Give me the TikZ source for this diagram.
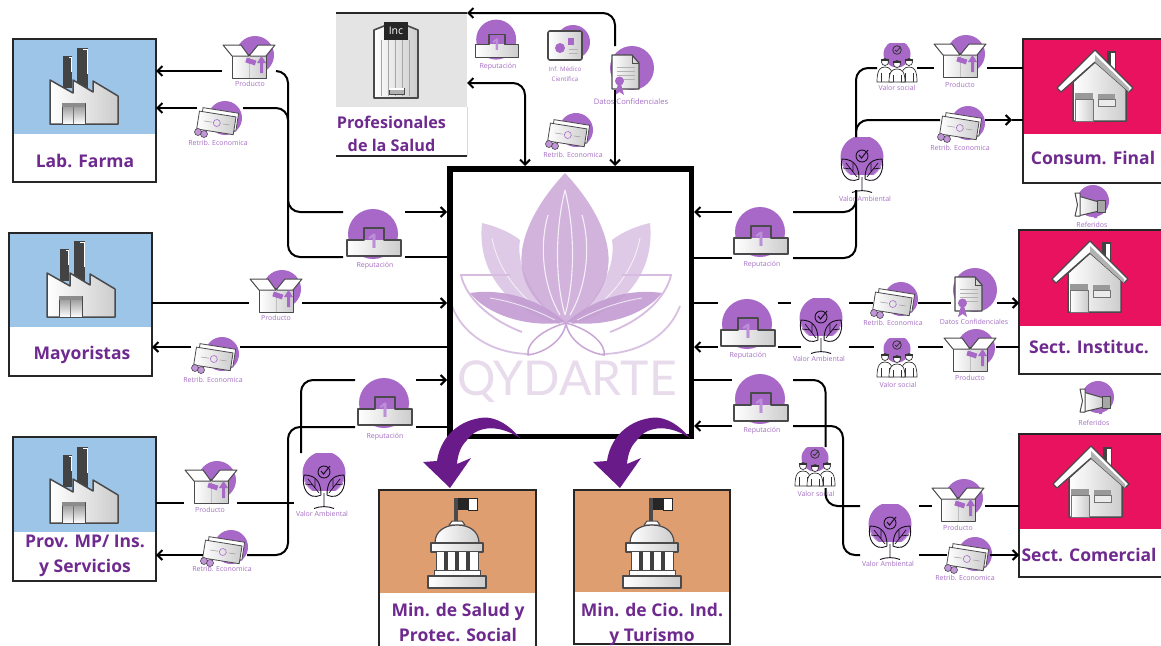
\documentclass[tikz,border=0pt]{standalone}
\usepackage{fontspec}
\setmainfont{Open Sans}
\newfontfamily\logofont{Lato}
\usetikzlibrary{arrows.meta,calc}
\definecolor{iconp}{HTML}{A768C8}
\definecolor{labp}{HTML}{A56FC4}
\definecolor{titlep}{HTML}{6E2A8E}
\definecolor{deepp}{HTML}{6A1B8A}
\definecolor{bluebg}{HTML}{9CC5E8}
\definecolor{pinkbg}{HTML}{E8125F}
\definecolor{orangebg}{HTML}{DF9E70}
\definecolor{graybg}{HTML}{E4E4E4}
\definecolor{edge}{HTML}{4A4A4C}
\definecolor{logoc}{HTML}{C9A6D6}
\definecolor{logod}{HTML}{C39CD2}
\definecolor{logol}{HTML}{E8DBEC}
\definecolor{onec}{HTML}{BC8FD8}
\tikzset{
 x=1pt,y=-1pt,
 link/.style={line width=2pt,draw=black,rounded corners=12pt},
 arr/.style={-{Straight Barb[length=5pt,width=10pt,line width=2pt]}},
 arrboth/.style={{Straight Barb[length=5pt,width=10pt,line width=2pt]}-{Straight Barb[length=5pt,width=10pt,line width=2pt]}},
 gapnode/.style={rectangle,inner sep=0pt,outer sep=0pt,minimum height=0pt},
 lbl/.style={text=labp,font=\fontsize{7}{8.5}\selectfont,inner sep=0pt,align=center},
 title/.style={text=titlep,font=\bfseries\fontsize{17.5}{25}\selectfont,inner sep=0pt,align=center},
 entbox/.style={rectangle,draw=#1,line width=2pt,inner sep=0pt,outer sep=0pt},
 entbox/.default={black!85},
 ol/.style={draw=edge,line width=1pt,line join=round},
 shade1/.style={left color=white,right color=black!20},
 shade2/.style={top color=black!45,bottom color=white},
}
\newcommand\gapn[4]{\node[gapnode,minimum width=#4] (#1) at (#2,#3) {};}
\newcommand\lab[3]{\node[lbl] (#1) at (#2) {#3};}
\newcommand\entity[7]{%
 \fill[#7] (#2,#3) rectangle (#4,#6);
 \node[entbox,minimum width={#4-#2},minimum height={#5-#3}] (#1) at ({(#2+#4)/2},{(#3+#5)/2}) {};}
% ---- entity pictures
\newcommand\factory[1]{\begin{scope}[shift={(#1)}]
 \fill[edge!90!black] (-21,-30) rectangle (-12,2);
 \draw[white,line width=.7] (-15,-29) -- (-13,-29) -- (-13,-14);
 \fill[edge!90!black] (-7,-38) rectangle (4,2);
 \draw[white,line width=.7] (-1,-37) -- (3,-37) -- (3,-12);
 \path[ol,line width=1.5pt,shade1] (-34,38) -- (-34,-6) -- (-11,7) -- (-11,-6) -- (9,6) -- (9,-5) -- (34,10) -- (34,38) -- cycle;
 \path[ol,shade2] (-22,17) rectangle (1,38);
 \fill[black!45] (-22,17) rectangle (1,21);
 \draw[black!55,line width=.6] (-10.5,21) -- (-10.5,38);
\end{scope}}
\newcommand\house[1]{\begin{scope}[shift={(#1)}]
 \fill[edge!90!black] (12,-35) rectangle (21,-12);
 \fill[white] (16,-33) rectangle (20,-14);
 \path[ol,line width=1.5pt,shade1] (-22,-4) -- (0,-24) -- (31,0) -- (31,35) -- (-22,35) -- cycle;
 \path[ol,line width=1.2pt,fill=white] (-38,2) -- (0,-36) -- (38,2) -- (34,6) -- (0,-24) -- (-34,6) -- cycle;
 \fill[black!30] (0,-31) -- (34,2) -- (34,6) -- (0,-24) -- cycle;
 \fill[black!40] (-20,7) rectangle (-2,13);
 \path[draw=black!55,line width=.7,shade1] (-20,13) rectangle (-2,35);
 \fill[black!40] (3,8) rectangle (20,13);
 \path[draw=black!55,line width=.7,fill=black!8] (3,13) rectangle (20,20);
\end{scope}}
\newcommand\capitol[1]{\begin{scope}[shift={(#1)}]
 \fill[edge] (-3,-45) rectangle (1,-22);
 \fill[black!85] (1,-45) rectangle (11,-33);
 \path[draw=black!85,fill=white,line width=.8] (11,-45) rectangle (20,-33);
 \path[ol,fill=white] (-8,-18) -- (-5,-22) -- (5,-22) -- (8,-18) -- cycle;
 \path[ol,line width=1.2pt,shade1] (-22,0) .. controls (-22,-12) and (-12,-18) .. (0,-18) .. controls (12,-18) and (22,-12) .. (22,0) -- cycle;
 \path[ol,line width=1.2pt,shade1] (-26,0) rectangle (26,9);
 \fill[white] (-21,9) rectangle (21,27);
 \foreach \c in {-12,-1,10}{\fill[black!75] (\c-1.5,9) rectangle (\c+2.5,27);}
 \draw[edge,line width=1pt] (-21,9) -- (-21,27) (21,9) -- (21,27);
 \path[ol,fill=white] (-23,27) rectangle (23,33);
 \path[ol,line width=1.4pt,shade1] (-29,33) rectangle (29,45);
\end{scope}}
\newcommand\office[1]{\begin{scope}[shift={(#1)}]
 \path[ol,line width=1.6pt,shade1] (-22,-30) -- (-12,-34) -- (12,-34) -- (22,-30) -- (22,38) -- (-22,38) -- cycle;
 \foreach \c in {-15,-8,-1,6,13}{\draw[black!35,line width=.8] (\c,-20) -- (\c,36);}
 \node[fill=black!85,text=white,inner sep=0pt,minimum width=24pt,minimum height=18pt,font=\fontsize{10.5}{11}\selectfont] (incbox) at (0,-29) {Inc};
 \path[draw=edge,fill=black!30,line width=.8] (-7,28) rectangle (8,34);
 \fill[white] (-7,28) rectangle (8,30);
\end{scope}}
% ---- flow icons
\newcommand\icProd[1]{\begin{scope}[shift={(#1)}]
 \fill[iconp] (6,-7) circle (19);
 \path[ol,shade1] (-17,-8) rectangle (17,16);
 \path[ol,fill=white] (-17,-6) -- (-26,-17) -- (-8,-17) -- (0,-6) -- cycle;
 \path[ol,fill=white] (17,-6) -- (26,-17) -- (9,-17) -- (0,-6) -- cycle;
 \draw[black!25,line width=.6] (0,-6) -- (0,16);
 \fill[iconp,rotate around={-18:(2,-1)}] (-3,-3) rectangle (7,2);
 \fill[iconp] (11,11) -- (11,1) -- (8,1) -- (12.5,-6) -- (17,1) -- (14,1) -- (14,11) -- cycle;
\end{scope}}
\newcommand\icMoney[1]{\begin{scope}[shift={(#1)}]
 \fill[iconp] (8,-4) circle (17);
 \begin{scope}[rotate=-9]
 \path[draw=edge,line width=.8,fill=white] (-16,-12) rectangle (20,6);
 \path[draw=edge,line width=.8,shade1] (-19,-8) rectangle (18,10);
 \draw[black!40,line width=.5] (-13,1) -- (-5,1) (6,1) -- (13,1);
 \draw[iconp,line width=.6] (0,1) circle (3.5);
 \end{scope}
 \fill[iconp!70] (-19,10) circle (3.5) (-13,12) circle (3.5);
 \draw[edge,line width=.6] (-19,10) circle (3.5) (-13,12) circle (3.5);
\end{scope}}
\newcommand\icPod[2][1]{\begin{scope}[shift={(#2)},scale=#1]
 \fill[iconp] (-1,-8) circle (25);
 \path[shade1] (-27,-2) rectangle (27,14);
 \draw[ol,line width=1.1pt] (-27,14) -- (-27,-2) -- (-10,-2) -- (-10,-14) -- (10,-14) -- (10,-2) -- (27,-2) -- (27,14) -- cycle;
 \pgfmathsetmacro\podsize{#1*20}
 \node[text=onec,inner sep=0pt,font=\bfseries\fontsize{\podsize}{\podsize}\selectfont] at (-1,-1) {1};
\end{scope}}
\newcommand\leaf[1]{\begin{scope}[xscale=#1]
 \draw[black!85!iconp,line width=.9] (3,14) .. controls (3,4) and (6,-6) .. (20,-6) .. controls (23,6) and (16,20) .. (3,14) -- cycle;
 \draw[black!85!iconp,line width=.7] (5,12) -- (16,-2) (9,6) -- (9,-2) (11,4) -- (19,3);
\end{scope}}
\newcommand\icPlant[1]{\begin{scope}[shift={(#1)}]
 \begin{scope}
 \clip (-30,-28) rectangle (30,9);
 \fill[iconp] (0,-8) circle (21.5);
 \end{scope}
 \fill[white,opacity=.35] (-20,-3) .. controls (-16,8) and (-8,14) .. (0,14) .. controls (8,14) and (16,8) .. (20,-3) -- (20,12) -- (-20,12) -- cycle;
 \leaf{1}\leaf{-1}
 \draw[black!85!iconp,line width=.9] (0,12) -- (0,26) (-10,27.5) .. controls (-4,25) and (4,25) .. (10,27.5);
 \draw[black!85!iconp,line width=.9] (0,-9) circle (6);
 \draw[black!85!iconp,line width=1] (-3,-10) -- (-.5,-7) -- (6,-15);
\end{scope}}
\newcommand\person[2]{\begin{scope}[shift={(#1)}]
 \path[draw=black!80,fill=white,line width=.7] (0,0) circle (3.5);
 \fill[black!80] (-3.8,-3) rectangle (3.8,-1);
 \path[draw=black!80,fill=white,line width=.7] (-8,#2) .. controls (-8,8) and (-5,5) .. (0,5) .. controls (5,5) and (8,8) .. (8,#2) -- cycle;
 \draw[black!80,line width=.5] (-4,#2) -- (-4,11) (4,#2) -- (4,11);
\end{scope}}
\newcommand\icPeople[1]{\begin{scope}[shift={(#1)}]
 \begin{scope}
 \clip (-15,-20) rectangle (15,6);
 \fill[iconp] (0,-9) circle (13.5);
 \end{scope}
 \draw[black!80,line width=.8] (0,-13) circle (4.3);
 \draw[black!80,line width=.8] (-2,-13) -- (-.4,-11.5) -- (3.5,-16);
 \person{-12,-1}{20}\person{12,-1}{20}\person{0,1}{18}
\end{scope}}
\newcommand\icDoc[1]{\begin{scope}[shift={(#1)}]
 \fill[iconp] (7,-4) circle (22);
 \path[ol,line width=1.2pt,shade1] (-13,-17) -- (7,-17) -- (14,-9) -- (14,17) -- (-13,17) -- cycle;
 \draw[edge,line width=.8] (7,-17) -- (7,-9) -- (14,-9);
 \foreach \v in {-5,-1,3,7}{\draw[black!30,line width=.6] (-8,\v) -- (10,\v);}
 \fill[iconp] (-7,12) -- (-10,23) -- (-5.5,20) -- (-1,23) -- (-4,12) -- cycle;
 \fill[iconp] (-5.5,9) circle (4.5);
\end{scope}}
\newcommand\icSlide[1]{\begin{scope}[shift={(#1)}]
 \fill[iconp] (8,-3) circle (17);
 \path[draw=edge,line width=1.6pt,rounded corners=2pt,shade1] (-17,-14) rectangle (17,15);
 \fill[iconp] (-5,3) circle (5);
 \fill[iconp] (3,-7) rectangle (9,0);
 \draw[black!30,line width=.6] (4,4) -- (13,4) (4,8) -- (13,8);
\end{scope}}
\newcommand\icMega[1]{\begin{scope}[shift={(#1)}]
 \fill[iconp] (3,-4) circle (16);
 \fill[iconp] (2,6) -- (9,6) -- (7,13) -- (4,13) -- cycle;
 \path[ol,shade1] (-12,-9) -- (9,-3) -- (9,6) -- (-12,11) -- cycle;
 \path[ol,fill=white] (-15,-12) -- (-10,-12) -- (-10,11) -- (-15,11) -- (-12.5,0) -- cycle;
 \path[ol,fill=black!35] (7,-5) rectangle (15,7);
\end{scope}}
\newcommand\mirrorpetal[1]{\path #1; \begin{scope}[xscale=-1,shift={(-1132,0)}]\path #1;\end{scope}}
\newcommand\bigarrow[1]{\fill[deepp,shift={(#1,0)}] (520,438) .. controls (505,420) and (490,416) .. (480,418) .. controls (455,422) and (440,440) .. (437,461) -- (423,462) -- (450,488) -- (471,458) -- (457,464) .. controls (458,452) and (462,445) .. (467,440) .. controls (475,428) and (495,422) .. (520,438) -- cycle;}
\begin{document}
\begin{tikzpicture}
\useasboundingbox (0,0) rectangle (1161,645);
\clip (0,0) rectangle (1161,645);
\fill[white] (0,0) rectangle (1161,645);
% ===== entities
\entity{labfarma}{13}{39}{156}{182}{134}{bluebg}
\factory{84,86}
\node[title] (tLab) at (85,161) {Lab. Farma};
\entity{mayor}{9}{233}{152}{376}{327}{bluebg}
\factory{81,279}
\node[title] (tMay) at (82,355) {Mayoristas};
\entity{prov}{13}{437}{156}{581}{532}{bluebg}
\factory{84,485}
\node[title] (tProv) at (85,556) {Prov. MP/ Ins.\\y Servicios};
% profesionales
\fill[graybg] (336,14) rectangle (467,107);
\draw[black!15,line width=1] (467,107) -- (467,156);
\node[rectangle,inner sep=0pt,outer sep=0pt,minimum width=131pt,minimum height=143pt] (prof) at (401.5,84.5) {};
\draw[black!85,line width=2] (prof.north west) -- (prof.north east);
\draw[black!85,line width=2] (prof.south west) -- (prof.south east);
\office{396,60}
\node[title,font=\bfseries\fontsize{16.2}{23}\selectfont] (tProf) at (391.5,134) {Profesionales\\de la Salud};
% hogares
\entity{consum}{1023}{39}{1175}{183}{134}{pinkbg}
\house{1095,86}
\node[title] (tCons) at (1093,158) {Consum. Final};
\entity{inst}{1019}{230}{1175}{374}{326}{pinkbg}
\house{1090,277}
\node[title] (tInst) at (1089,347) {Sect. Instituc.};
\entity{comerc}{1019}{434}{1175}{577}{529}{pinkbg}
\house{1091,482}
\node[title] (tCom) at (1089,555) {Sect. Comercial};
% ministerios
\entity{minsal}{379}{490}{536}{650}{593}{orangebg}
\capitol{457,543}
\node[title] (tMinS) at (458,622.5) {Min. de Salud y\\Protec. Social};
\entity{mincio}{574}{490}{730}{644}{592}{orangebg}
\capitol{652,543}
\node[title] (tMinC) at (652,624) {Min. de Cio. Ind.\\y Turismo};
% ===== logo
\begin{scope}
\path[fill=logoc,fill opacity=.85] (565,173) .. controls (535,205) and (518,240) .. (522,268) .. controls (525,295) and (550,315) .. (566,324) .. controls (582,315) and (605,295) .. (608,268) .. controls (612,240) and (595,205) .. (565,173) -- cycle;
\draw[white,opacity=.8,line width=1.1] (565,190) .. controls (555,230) and (555,280) .. (565,315) (565,190) .. controls (575,230) and (575,280) .. (565,315) (548,215) .. controls (538,250) and (545,290) .. (560,315) (582,215) .. controls (592,250) and (585,290) .. (570,315);
\mirrorpetal{[fill=logoc,fill opacity=.6] (482,223) .. controls (477,270) and (505,310) .. (562,325) .. controls (530,295) and (516,265) .. (520,240) .. controls (510,232) and (495,226) .. (482,223) -- cycle}
\mirrorpetal{[draw=white,opacity=.7,line width=.9] (492,238) .. controls (498,270) and (520,298) .. (548,315)}
\mirrorpetal{[fill=logod,fill opacity=.9] (470,293) .. controls (490,318) and (535,328) .. (565,322) .. controls (540,300) and (505,288) .. (470,293) -- cycle}
\mirrorpetal{[draw=white,opacity=.7,line width=.9] (490,298) .. controls (515,302) and (535,310) .. (555,320)}
\mirrorpetal{[draw=logoc!75,line width=1.8] (510,275) -- (461,275) .. controls (466,298) and (490,320) .. (522,332)}
\mirrorpetal{[draw=logoc!70,line width=1.8] (452,306) .. controls (465,340) and (500,354) .. (530,354)}
\mirrorpetal{[draw=logoc,line width=1.5,fill=white,fill opacity=.4] (566,323) .. controls (540,330) and (526,345) .. (528,355) .. controls (548,352) and (564,338) .. (566,323) -- cycle}
\node[text=logol,inner sep=0pt,font=\logofont\fontsize{48}{50}\selectfont] (logotext) at (567,382) {QYDARTE};
\end{scope}
\node[rectangle,draw=black,line width=5.5pt,inner sep=0pt,minimum width=241.5pt,minimum height=267.5pt] (main) at (570.5,302.5) {};
% ===== icons
\icProd{249,62}\icProd{276,296}\icProd{211,487}\icProd{960,61}\icProd{970,355}\icProd{958,505}
\icMoney{217,122}\icMoney{214,358}\icMoney{223,551}\icMoney{568,134}\icMoney{960,127}\icMoney{893,303}\icMoney{967,558}
\icPod{374,242}\icPod{385,411}\icPod{761,240}\icPod{748,332}\icPod{761,407}\icPod[.8]{497,46}
\icPlant{862,165}\icPlant{821,326}\icPlant{890,532}\icPlant{324,481}
\icPeople{897,63}\icPeople{897,358}\icPeople{815,467}
\icDoc{625,72}\icDoc{968,294}
\icSlide{565,45}
\icMega{1090,205}\icMega{1095,401}
% ===== labels
\lab{l1}{250,84}{Producto}\lab{l2}{276,318}{Producto}\lab{l3}{210,510}{Producto}\lab{l4}{960,85}{Producto}\lab{l5}{970,378}{Producto}\lab{l6}{958,528}{Producto}
\lab{l7}{218,143}{Retrib. Economica}\lab{l8}{213,380}{Retrib. Economica}\lab{l9}{222,569}{Retrib. Economica}\lab{l10}{573,155}{Retrib. Economica}\lab{l11}{960,148}{Retrib. Economica}\lab{l12}{893,323}{Retrib. Economica}\lab{l13}{965,578}{Retrib. Economica}
\lab{l14}{375,266}{Reputación}\lab{l15}{385,437}{Reputación}\lab{l16}{762,265}{Reputación}\lab{l17}{748,356}{Reputación}\lab{l18}{762,431}{Reputación}\lab{l19}{498,67}{Reputación}
\lab{l20}{865,199}{Valor Ambiental}\lab{l21}{819,359}{Valor Ambiental}\lab{l22}{888,564}{Valor Ambiental}\lab{l23}{322,514}{Valor Ambiental}
\lab{l24}{897,88}{Valor social}\lab{l25}{898,385}{Valor social}\lab{l26}{816,494}{Valor social}
\node[lbl,font=\fontsize{7.6}{9}\selectfont] (l27) at (631,102) {Datos Confidenciales};
\lab{l28}{974,322}{Datos Confidenciales}
\node[lbl,font=\fontsize{6.2}{10}\selectfont] (l29) at (565,74) {Inf. Médico\\Científica};
\lab{l30}{1092,225}{Referidos}\lab{l31}{1094,423}{Referidos}
% ===== gaps
\gapn{gProdA}{249}{71}{54}\gapn{gRetA}{220}{108}{46}
\gapn{gRepAt}{374}{212}{62}\gapn{gRepAb}{374}{257}{62}
\gapn{gProdB}{275.5}{303}{53}\gapn{gRetB}{215.5}{347}{49}
\gapn{gRepCt}{385.5}{380}{61}\gapn{gRepCb}{385.5}{427}{61}
\gapn{gProdC}{210.5}{503}{53}\gapn{gRetC}{225}{555}{44}
\gapn{gRepRt}{762.5}{212}{61}\gapn{gRepRb}{762.5}{258}{61}
\gapn{gPeopA}{897}{68}{40}\gapn{gProdD}{960.5}{68}{53}\gapn{gRetD}{962.5}{120}{45}
\gapn{gRepI}{748}{303}{60}\gapn{gPlantI}{820}{303}{58}\gapn{gRetI}{895.5}{303}{45}\gapn{gDocI}{974}{303}{46}
\gapn{gRepJ}{748}{347}{60}\gapn{gPlantJ}{825}{347}{48}\gapn{gPeopJ}{896}{347}{44}\gapn{gProdJ}{969.5}{347}{53}
\gapn{gRepKt}{762.5}{380}{61}\gapn{gRepKb}{762.5}{426}{61}
\gapn{gPlantK}{889.5}{506}{59}\gapn{gProdK}{958.5}{506}{53}\gapn{gPlantL}{889.5}{555}{59}\gapn{gRetL}{968.5}{555}{43}
% ===== free points
\coordinate (busLa) at (288,0);
\coordinate (plantPin) at (301,453);
\coordinate (plantOut) at (294,503);
\coordinate (busPb) at (288,0);
\coordinate (docTop) at (615,46);
\coordinate (docBot) at (615,90);
\coordinate (pIn) at (467,83);
\coordinate (mIn) at (525,0);
\coordinate (plantRb) at (856,190);
\coordinate (plantRt) at (856,137);
\coordinate (tipD) at (1012,120);
\coordinate (pinK) at (825.5,447);
\coordinate (pinK2) at (825.5,488);
\coordinate (busKb) at (843,0);
% ===== connectors, left
\draw[link,arr] (gProdA.west) -- (labfarma.east |- gProdA.west);
\draw[link,arr] (gRetA.west) -- (labfarma.east |- gRetA.west);
\draw[link] (gProdA.east) -- (busLa |- gProdA.east) -- (busLa |- gRepAt.west) -- (gRepAt.west);
\draw[link] (gRetA.east) -- (busLa |- gRetA.east) -- (busLa |- gRepAb.west) -- (gRepAb.west);
\draw[link,arr] (gRepAt.east) -- (main.west |- gRepAt.east);
\draw[link] (gRepAb.east) -- (main.west |- gRepAb.east);
\draw[link] (mayor.east |- gProdB.west) -- (gProdB.west);
\draw[link,arr] (gProdB.east) -- (main.west |- gProdB.east);
\draw[link] (main.west |- gRetB.east) -- (gRetB.east);
\draw[link,arr] (gRetB.west) -- (mayor.east |- gRetB.west);
\draw[link,arr] (gRepCt.east) -- (main.west |- gRepCt.east);
\draw[link] (gRepCb.east) -- (main.west |- gRepCb.east);
\draw[link] (gRepCt.west) -- (plantPin |- gRepCt.west) -- (plantPin);
\draw[link] (gRepCb.west) -- (busPb |- gRepCb.west) -- (busPb |- gRetC.east) -- (gRetC.east);
\draw[link,arr] (gRetC.west) -- (prov.east |- gRetC.west);
\draw[link] (prov.east |- gProdC.west) -- (gProdC.west);
\draw[link] (gProdC.east) -- (plantOut);
% ===== connectors, top
\draw[link,arr] (docTop) -- (docTop |- prof.north east) -- (prof.north east);
\draw[link,arr] (docBot) -- (docBot |- main.north);
\draw[link,arrboth] (pIn) -- (mIn |- pIn) -- (mIn |- main.north);
% ===== connectors, right
\draw[link,arr] (gRepRt.west) -- (main.east |- gRepRt.west);
\draw[link] (main.east |- gRepRb.west) -- (gRepRb.west);
\draw[link] (gRepRt.east) -- (plantRb |- gRepRt.east) -- (plantRb);
\draw[link] (gRepRb.east) -- (plantRb |- gRepRb.east) -- (plantRb);
\draw[link] (plantRt) -- (plantRt |- gPeopA.west) -- (gPeopA.west);
\draw[link] (plantRt) -- (plantRt |- gRetD.west) -- (gRetD.west);
\draw[link] (gPeopA.east) -- (gProdD.west);
\draw[link] (gProdD.east) -- (consum.west |- gProdD.east);
\draw[link,arr] (gRetD.east) -- (tipD);
\draw[link] (tipD) -- (consum.west |- tipD);
\draw[link] (main.east |- gRepI.west) -- (gRepI.west);
\draw[link] (gRepI.east) -- (gPlantI.west);
\draw[link] (gPlantI.east) -- (gRetI.west);
\draw[link] (gRetI.east) -- (gDocI.west);
\draw[link,arr] (gDocI.east) -- (inst.west |- gDocI.east);
\draw[link] (inst.west |- gProdJ.east) -- (gProdJ.east);
\draw[link] (gProdJ.west) -- (gPeopJ.east);
\draw[link] (gPeopJ.west) -- (gPlantJ.east);
\draw[link] (gPlantJ.west) -- (gRepJ.east);
\draw[link,arr] (gRepJ.west) -- (main.east |- gRepJ.west);
\draw[link] (main.east |- gRepKt.west) -- (gRepKt.west);
\draw[link,arr] (gRepKb.west) -- (main.east |- gRepKb.west);
\draw[link] (gRepKt.east) -- (pinK |- gRepKt.east) -- (pinK);
\draw[link] (gRepKb.east) -- (busKb |- gRepKb.east) -- (busKb |- gPlantL.west) -- (gPlantL.west);
\draw[link] (pinK2) -- (pinK2 |- gPlantK.west) -- (gPlantK.west);
\draw[link] (gPlantK.east) -- (gProdK.west);
\draw[link] (gProdK.east) -- (comerc.west |- gProdK.east);
\draw[link] (gPlantL.east) -- (gRetL.west);
\draw[link,arr] (gRetL.east) -- (comerc.west |- gRetL.east);
% ===== large arrows
\bigarrow{0}
\bigarrow{170}
\end{tikzpicture}
\end{document}
